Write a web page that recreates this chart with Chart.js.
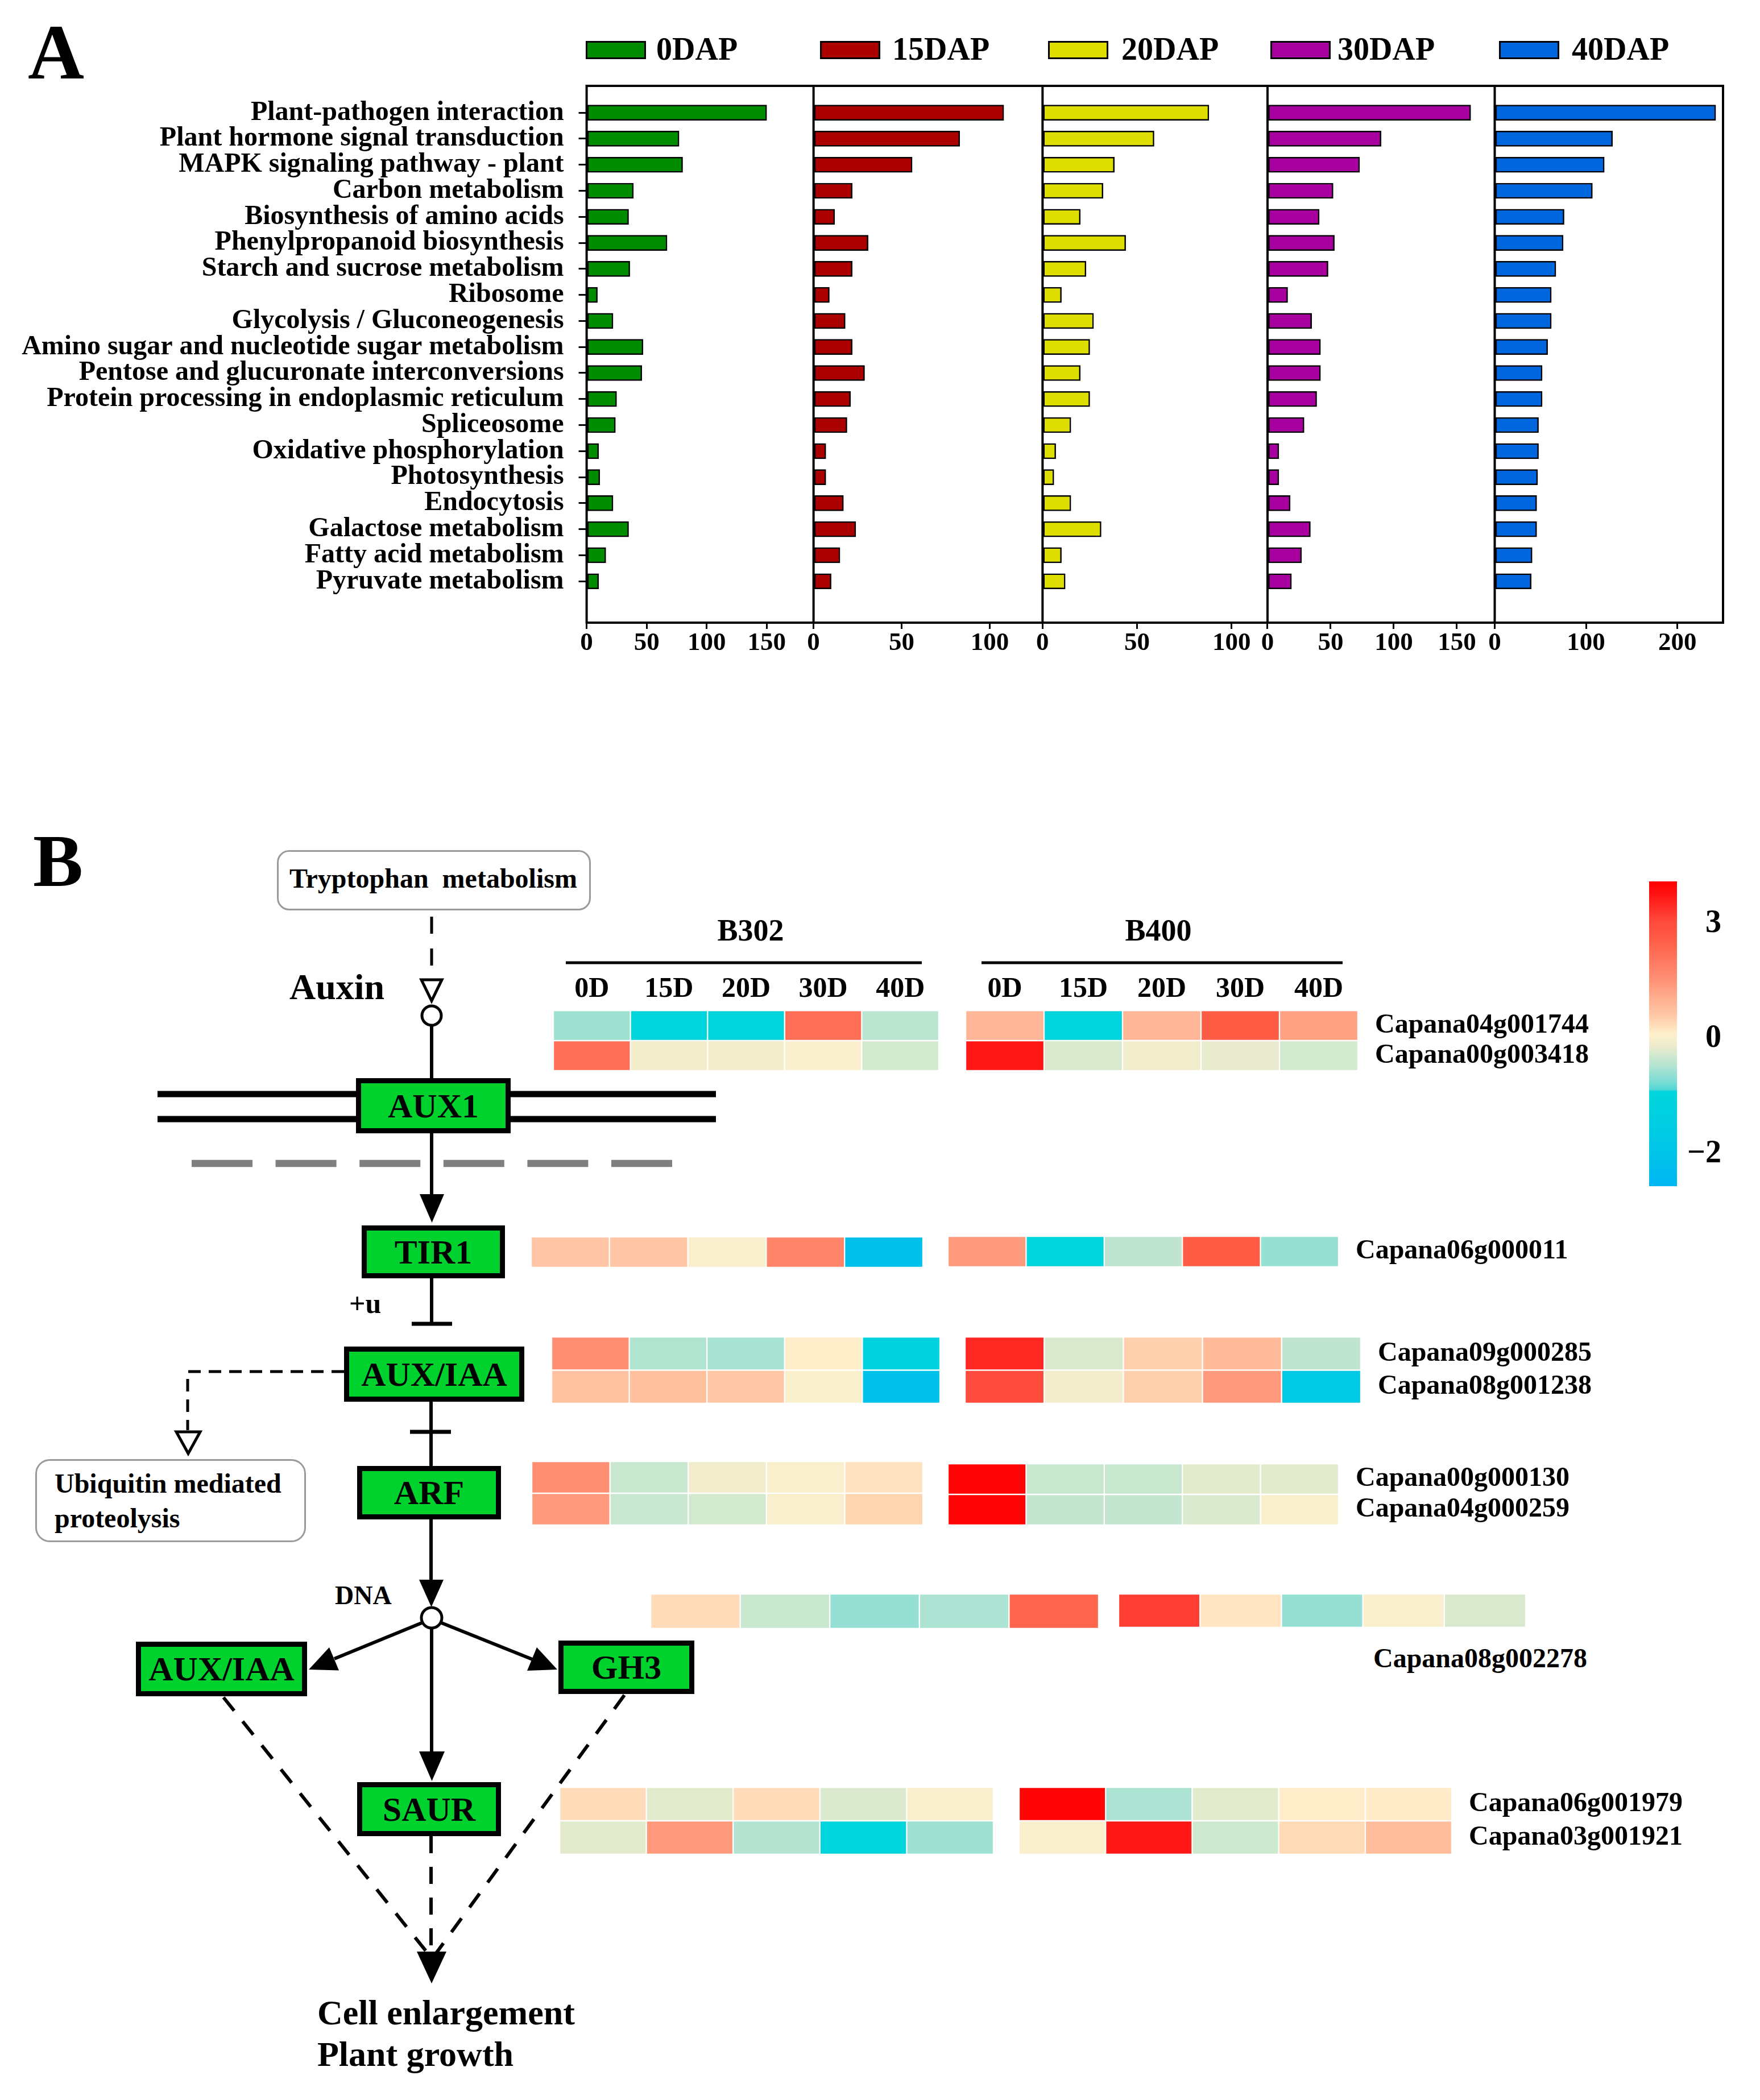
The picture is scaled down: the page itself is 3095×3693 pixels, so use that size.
<!DOCTYPE html>
<html>
<head>
<meta charset="utf-8">
<script src="https://cdn.jsdelivr.net/npm/chart.js@4.4.1/dist/chart.umd.min.js"></script>
<style>
  html, body { margin: 0; padding: 0; background: #fff; }
  #page { position: relative; width: 3095px; height: 3693px; overflow: hidden; background: #fff; }
  #page canvas { position: absolute; }
  #diagram { position: absolute; left: 0; top: 0; }
  #diagram text { font-family: 'Liberation Serif', 'Times New Roman', serif; font-weight: bold; fill: #000; }
</style>
</head>
<body>
<div id="page">
<svg id="diagram" width="3095" height="3693" viewBox="0 0 3095 3693">
  <!-- panel letters -->
  <text x="49" y="138" font-size="137">A</text>
  <text x="58" y="1558" font-size="132">B</text>

  <!-- legend of panel A -->
  <g stroke="#000" stroke-width="3">
    <rect x="1031.5" y="73.5" width="103" height="29" fill="#008c00"/>
    <rect x="1443.5" y="73.5" width="103" height="29" fill="#aa0000"/>
    <rect x="1844.5" y="73.5" width="103" height="29" fill="#dddd00"/>
    <rect x="2235.5" y="73.5" width="103" height="29" fill="#a8009f"/>
    <rect x="2637.5" y="73.5" width="103" height="29" fill="#0066dd"/>
  </g>
  <g font-size="56">
    <text x="1154" y="105">0DAP</text>
    <text x="1569" y="105">15DAP</text>
    <text x="1972" y="105">20DAP</text>
    <text x="2352" y="105">30DAP</text>
    <text x="2764" y="105">40DAP</text>
  </g>

  <!-- heatmap headers -->
  <text x="1320" y="1654" font-size="54" text-anchor="middle">B302</text>
  <text x="2037" y="1654" font-size="54" text-anchor="middle">B400</text>
  <line x1="995" y1="1693" x2="1621" y2="1693" stroke="#000" stroke-width="5"/>
  <line x1="1726" y1="1693" x2="2361" y2="1693" stroke="#000" stroke-width="5"/>
  <text x="2415" y="2932" font-size="48">Capana08g002278</text>

  <!-- pathway -->
  <rect x="488.5" y="1496.5" width="549" height="103" rx="20" fill="#fff" stroke="#9a9a9a" stroke-width="3"/>
  <text x="762" y="1561" font-size="48" text-anchor="middle" style="white-space:pre">Tryptophan  metabolism</text>
  <line x1="759" y1="1612" x2="759" y2="1716" stroke="#000" stroke-width="5" stroke-dasharray="30 26"/>
  <polygon points="741,1723 777,1723 759,1760" fill="#fff" stroke="#000" stroke-width="5"/>
  <circle cx="759" cy="1786" r="17" fill="#fff" stroke="#000" stroke-width="5"/>
  <text x="509" y="1757" font-size="64">Auxin</text>
  <line x1="759" y1="1803" x2="759" y2="1898" stroke="#000" stroke-width="6"/>

  <line x1="277" y1="1924" x2="1259" y2="1924" stroke="#000" stroke-width="11"/>
  <line x1="277" y1="1968" x2="1259" y2="1968" stroke="#000" stroke-width="11"/>
  <line x1="337" y1="2046" x2="1182" y2="2046" stroke="#7f7f7f" stroke-width="12.6" stroke-dasharray="107 40.6"/>

  <line x1="759" y1="1993" x2="759" y2="2102" stroke="#000" stroke-width="6"/>
  <polygon points="738,2100 781,2100 759.5,2150" fill="#000"/>
  <line x1="759" y1="2248" x2="759" y2="2328" stroke="#000" stroke-width="6"/>
  <line x1="724" y1="2328" x2="795" y2="2328" stroke="#000" stroke-width="7"/>
  <text x="614" y="2309" font-size="50">+u</text>

  <polyline points="605,2412 330,2412 330,2515" fill="none" stroke="#000" stroke-width="5" stroke-dasharray="22 14"/>
  <polygon points="310,2518 352,2518 331,2556" fill="#fff" stroke="#000" stroke-width="5"/>
  <rect x="63.5" y="2567.5" width="473" height="143" rx="24" fill="#fff" stroke="#9a9a9a" stroke-width="3"/>
  <text x="96" y="2625" font-size="48">Ubiquitin mediated</text>
  <text x="96" y="2686" font-size="48">proteolysis</text>

  <line x1="758" y1="2465" x2="758" y2="2580" stroke="#000" stroke-width="6"/>
  <line x1="721" y1="2518" x2="793" y2="2518" stroke="#000" stroke-width="7"/>

  <line x1="758" y1="2672" x2="758" y2="2780" stroke="#000" stroke-width="6"/>
  <polygon points="737,2778 780,2778 758.5,2826" fill="#000"/>
  <circle cx="759" cy="2845" r="18" fill="#fff" stroke="#000" stroke-width="5"/>
  <text x="589" y="2821" font-size="46">DNA</text>

  <line x1="744" y1="2853" x2="588" y2="2917" stroke="#000" stroke-width="6"/>
  <polygon points="543,2936 596,2937.5 579,2897" fill="#000"/>
  <line x1="774" y1="2853" x2="936" y2="2918" stroke="#000" stroke-width="6"/>
  <polygon points="980,2936 927,2938 944,2897" fill="#000"/>
  <line x1="759" y1="2863" x2="759" y2="3082" stroke="#000" stroke-width="6"/>
  <polygon points="737,3080 782,3080 759.5,3132" fill="#000"/>

  <g stroke="#000" stroke-width="6" stroke-dasharray="30 24" fill="none">
    <line x1="393" y1="2985" x2="753" y2="3436"/>
    <line x1="1098" y1="2981" x2="766" y2="3436"/>
    <line x1="758" y1="3229" x2="758" y2="3436"/>
  </g>
  <polygon points="733,3432 785,3432 759,3488" fill="#000"/>
  <text x="558" y="3560" font-size="62">Cell enlargement</text>
  <text x="558" y="3633" font-size="62">Plant growth</text>

  <!-- gene boxes -->
  <g fill="#00d22d" stroke="#000" stroke-width="9">
    <rect x="630.5" y="1900.5" width="263" height="88"/>
    <rect x="640.5" y="2159.5" width="243" height="84"/>
    <rect x="609.5" y="2372.5" width="308" height="88"/>
    <rect x="632.5" y="2582.5" width="244" height="85"/>
    <rect x="243.5" y="2891.5" width="292" height="87"/>
    <rect x="986.5" y="2889.5" width="230" height="85"/>
    <rect x="632.5" y="3138.5" width="244" height="86"/>
  </g>
  <g font-size="60" text-anchor="middle">
    <text x="762" y="1965">AUX1</text>
    <text x="762" y="2222">TIR1</text>
    <text x="763.5" y="2437">AUX/IAA</text>
    <text x="754.5" y="2645">ARF</text>
    <text x="389.5" y="2955">AUX/IAA</text>
    <text x="1101.5" y="2952">GH3</text>
    <text x="754.5" y="3202">SAUR</text>
  </g>
</svg>
</div>
<script>
// ---- panel A: KEGG pathway counts ----
const CATEGORIES = [
  'Plant-pathogen interaction', 'Plant hormone signal transduction', 'MAPK signaling pathway - plant',
  'Carbon metabolism', 'Biosynthesis of amino acids', 'Phenylpropanoid biosynthesis',
  'Starch and sucrose metabolism', 'Ribosome', 'Glycolysis / Gluconeogenesis',
  'Amino sugar and nucleotide sugar metabolism', 'Pentose and glucuronate interconversions',
  'Protein processing in endoplasmic reticulum', 'Spliceosome', 'Oxidative phosphorylation',
  'Photosynthesis', 'Endocytosis', 'Galactose metabolism', 'Fatty acid metabolism', 'Pyruvate metabolism'
];
const SERIES = ['0DAP', '15DAP', '20DAP', '30DAP', '40DAP'];
const DAP0 = [150, 77, 80, 39, 35, 67, 36, 9, 22, 47, 46, 25, 24, 10, 11, 22, 35, 16, 10];
const DAP15 = [108, 83, 56, 22, 12, 31, 22, 9, 18, 22, 29, 21, 19, 7, 7, 17, 24, 15, 10];
const DAP20 = [88, 59, 38, 32, 20, 44, 23, 10, 27, 25, 20, 25, 15, 7, 6, 15, 31, 10, 12];
const DAP30 = [161, 90, 73, 52, 41, 53, 48, 16, 35, 42, 42, 39, 29, 9, 9, 18, 34, 27, 19];
const DAP40 = [242, 129, 120, 107, 76, 75, 67, 62, 62, 58, 52, 52, 48, 48, 47, 46, 46, 41, 40];
const AXIS_MAX = [189, 130, 119, 180, 250];
const AXIS_TICKS = [[0, 50, 100, 150], [0, 50, 100], [0, 50, 100], [0, 50, 100, 150], [0, 100, 200]];

// ---- panel B: heatmap z-scores ----
const HEAT_COLS = ['0D', '15D', '20D', '30D', '40D'];
const AUX1_GENES = ['Capana04g001744', 'Capana00g003418'];
const AUX1_B302 = [[-0.58, -1.0, -1.0, 2.2, -0.43], [2.2, -0.05, -0.05, 0.02, -0.28]];
const AUX1_B400 = [[0.9, -1.0, 0.9, 2.6, 1.25], [3.7, -0.25, -0.08, -0.15, -0.28]];
const TIR1_GENES = ['Capana06g000011'];
const TIR1_B302 = [[0.65, 0.65, 0.02, 1.8, -2.1]];
const TIR1_B400 = [[1.4, -0.93, -0.4, 2.6, -0.62]];
const IAA_GENES = ['Capana09g000285', 'Capana08g001238'];
const IAA_B302 = [[1.6, -0.48, -0.53, 0.16, -1.05], [0.72, 0.75, 0.62, 0.02, -2.1]];
const IAA_B400 = [[3.5, -0.25, 0.5, 0.85, -0.4], [3.0, -0.05, 0.5, 1.4, -1.7]];
const ARF_GENES = ['Capana00g000130', 'Capana04g000259'];
const ARF_B302 = [[1.6, -0.34, -0.08, 0.02, 0.28], [1.4, -0.35, -0.28, 0.02, 0.45]];
const ARF_B400 = [[4.0, -0.34, -0.34, -0.18, -0.18], [4.0, -0.37, -0.37, -0.23, 0.02]];
const GH3_GENES = ['Capana08g002278'];
const GH3_B302 = [[0.36, -0.34, -0.62, -0.5, 2.4]];
const GH3_B400 = [[3.2, 0.25, -0.62, 0.02, -0.25]];
const SAUR_GENES = ['Capana06g001979', 'Capana03g001921'];
const SAUR_B302 = [[0.36, -0.18, 0.36, -0.23, 0.02], [-0.18, 1.4, -0.46, -0.95, -0.58]];
const SAUR_B400 = [[4.0, -0.5, -0.18, 0.16, 0.18], [0.02, 3.7, -0.32, 0.38, 0.8]];
const CBAR_MIN = -2.55;
const CBAR_MAX = 4.1;
const CBAR_TICKS = [-2, 0, 3];

const page = document.getElementById('page');
const BAR_COLORS = ['#008c00', '#aa0000', '#dddd00', '#a8009f', '#0066dd'];
const SEG_WEIGHTS = [399, 402.7, 395.6, 399.5, 401.5];
const CBAR_CENTER = 0.485;  // where 0 sits along the colour bar
const serif = (size) => ({ family: "'Liberation Serif', 'Times New Roman', serif", weight: 'bold', size });

// colour map, position t in 0..1 along the colour bar
const CMAP = [
  [0, '#00b6f4'], [0.1, '#00c3ea'], [0.2, '#00cde2'], [0.31, '#00d5dc'], [0.317, '#50d6d6'],
  [0.341, '#78dcd4'], [0.384, '#a8e2d2'], [0.427, '#cfe8cf'], [0.463, '#eeeccc'], [0.5, '#fff0cc'],
  [0.556, '#ffcaa8'], [0.614, '#ffb090'], [0.67, '#ff9478'], [0.735, '#ff7a62'], [0.799, '#ff6048'],
  [0.868, '#ff4a3c'], [0.963, '#ff1010'], [1, '#ff0000']
];
function norm(v) {
  return v >= 0 ? CBAR_CENTER + (1 - CBAR_CENTER) * v / CBAR_MAX
                : CBAR_CENTER - CBAR_CENTER * v / CBAR_MIN;
}
function hex(c) {
  return [1, 3, 5].map(i => parseInt(c.slice(i, i + 2), 16));
}
function heatColor(v) {
  const t = Math.max(0, Math.min(1, norm(v)));
  for (let i = 1; i < CMAP.length; i++) {
    if (t <= CMAP[i][0]) {
      const [t0, c0] = CMAP[i - 1];
      const [t1, c1] = CMAP[i];
      const f = (t - t0) / (t1 - t0);
      const a = hex(c0), b = hex(c1);
      return 'rgb(' + a.map((x, k) => Math.round(x + (b[k] - x) * f)).join(',') + ')';
    }
  }
  return CMAP[CMAP.length - 1][1];
}

function addCanvas(left, top, width, height) {
  const cv = document.createElement('canvas');
  cv.width = width;
  cv.height = height;
  cv.style.left = left + 'px';
  cv.style.top = top + 'px';
  page.appendChild(cv);
  return cv;
}
// keep label overflow from moving the plot area
function noPad(s) {
  s.paddingTop = 0; s.paddingBottom = 0; s.paddingLeft = 0; s.paddingRight = 0;
}

// ---------- panel A ----------
const SERIES_DATA = [DAP0, DAP15, DAP20, DAP30, DAP40];

const framePlugin = {
  id: 'frame',
  afterDraw(chart) {
    const { ctx, chartArea: a } = chart;
    ctx.save();
    ctx.strokeStyle = '#000';
    ctx.lineWidth = 4;
    ctx.strokeRect(a.left, a.top, a.right - a.left, a.bottom - a.top);
    for (let i = 1; i < SERIES.length; i++) {
      const x = chart.scales['x' + i].left;
      ctx.beginPath();
      ctx.moveTo(x, a.top);
      ctx.lineTo(x, a.bottom);
      ctx.stroke();
    }
    ctx.restore();
  }
};

const scalesA = {
  y: {
    type: 'linear',
    reverse: true,
    offset: false,
    min: -1.03,
    max: 19.59,
    position: 'left',
    grid: { offset: false, drawOnChartArea: false, tickLength: 14, lineWidth: 3, color: '#000' },
    border: { display: false },
    afterBuildTicks: s => { s.ticks = CATEGORIES.map((_, i) => ({ value: i })); },
    ticks: { autoSkip: false, padding: 26, color: '#000', font: serif(48),
             callback: (v, i) => CATEGORIES[i] },
    afterFit: s => { s.width = 1031.6; noPad(s); }
  }
};
SERIES.forEach((name, i) => {
  scalesA['x' + i] = {
    type: 'linear',
    position: 'bottom',
    stack: 'dap',
    stackWeight: SEG_WEIGHTS[i],
    min: 0,
    max: AXIS_MAX[i],
    afterBuildTicks: s => { s.ticks = AXIS_TICKS[i].map(v => ({ value: v })); },
    grid: { drawOnChartArea: false, tickLength: 11, lineWidth: 3, color: '#000' },
    border: { display: false },
    ticks: { autoSkip: false, maxRotation: 0, padding: -2, color: '#000', font: serif(45) },
    afterFit: s => { s.height = 100; noPad(s); }
  };
});

new Chart(addCanvas(0, 0, 3095, 1260), {
  type: 'bar',
  data: {
    datasets: SERIES.map((name, i) => ({
      label: name,
      data: SERIES_DATA[i].map((v, k) => ({ x: v, y: k })),
      xAxisID: 'x' + i,
      yAxisID: 'y',
      backgroundColor: BAR_COLORS[i],
      borderColor: '#000',
      borderWidth: 2.5,
      borderSkipped: false,
      barThickness: 27,
      grouped: false
    }))
  },
  options: {
    indexAxis: 'y',
    responsive: false,
    animation: false,
    events: [],
    layout: { padding: { top: 151, right: 65, bottom: 65, left: 0 } },
    plugins: { legend: { display: false }, tooltip: { enabled: false } },
    scales: scalesA
  },
  plugins: [framePlugin]
});

// ---------- panel B heatmaps ----------
function heatBlock(rect, genes, values, withHeader, withLabels) {
  const [x0, y0, x1, y1] = rect;
  const topH = withHeader ? 80 : 0;
  const rightW = withLabels ? 420 : 0;
  const cells = [];
  values.forEach((row, r) => row.forEach((v, c) => cells.push({ x: [c, c + 1], y: genes[r], v })));
  new Chart(addCanvas(x0, y0 - topH, x1 - x0 + rightW, y1 - y0 + topH), {
    type: 'bar',
    data: {
      labels: genes,
      datasets: [{
        data: cells,
        backgroundColor: ctx => heatColor(ctx.raw.v),
        borderColor: '#fff',
        borderWidth: 1.5,
        borderSkipped: false,
        barPercentage: 1,
        categoryPercentage: 1
      }]
    },
    options: {
      indexAxis: 'y',
      responsive: false,
      animation: false,
      events: [],
      layout: { padding: 0 },
      plugins: { legend: { display: false }, tooltip: { enabled: false } },
      scales: {
        x: {
          type: 'linear', min: 0, max: HEAT_COLS.length,
          display: withHeader, position: 'top',
          grid: { display: false, drawTicks: false },
          border: { display: false },
          afterBuildTicks: s => { s.ticks = HEAT_COLS.map((_, i) => ({ value: i + 0.5 })); },
          ticks: { autoSkip: false, maxRotation: 0, padding: 7, color: '#000', font: serif(50),
                   callback: (v, i) => HEAT_COLS[i] },
          afterFit: s => { s.height = topH; noPad(s); }
        },
        y: {
          type: 'category', offset: true,
          display: withLabels, position: 'right',
          grid: { display: false, drawTicks: false },
          border: { display: false },
          ticks: { autoSkip: false, padding: 30, color: '#000', font: serif(48) },
          afterFit: s => { s.width = rightW; noPad(s); }
        }
      }
    }
  });
}

const HEAT_BLOCKS = [
  { genes: AUX1_GENES, b302: AUX1_B302, b400: AUX1_B400, r302: [973, 1777, 1651, 1883], r400: [1698, 1777, 2388, 1883], header: true, labels: true },
  { genes: TIR1_GENES, b302: TIR1_B302, b400: TIR1_B400, r302: [934, 2175, 1623, 2229], r400: [1667, 2174, 2354, 2228], header: false, labels: true },
  { genes: IAA_GENES, b302: IAA_B302, b400: IAA_B400, r302: [970, 2351, 1653, 2468], r400: [1697, 2351, 2393, 2468], header: false, labels: true },
  { genes: ARF_GENES, b302: ARF_B302, b400: ARF_B400, r302: [935, 2570, 1623, 2682], r400: [1667, 2574, 2354, 2682], header: false, labels: true },
  { genes: GH3_GENES, b302: GH3_B302, b400: GH3_B400, r302: [1144, 2803, 1932, 2864], r400: [1967, 2803, 2683, 2862], header: false, labels: false },
  { genes: SAUR_GENES, b302: SAUR_B302, b400: SAUR_B400, r302: [984, 3143, 1747, 3261], r400: [1792, 3143, 2553, 3261], header: false, labels: true }
];
HEAT_BLOCKS.forEach(b => {
  heatBlock(b.r302, b.genes, b.b302, b.header, false);
  heatBlock(b.r400, b.genes, b.b400, b.header, b.labels);
});

// ---------- colour bar ----------
new Chart(addCanvas(2900, 1550, 127, 536), {
  type: 'bar',
  data: {
    labels: ['z'],
    datasets: [{
      data: [[0, 1]],
      barPercentage: 1,
      categoryPercentage: 1,
      backgroundColor: ctx => {
        const area = ctx.chart.chartArea;
        if (!area) return '#fff';
        const g = ctx.chart.ctx.createLinearGradient(0, area.bottom, 0, area.top);
        CMAP.forEach(([t, c]) => g.addColorStop(t, c));
        return g;
      }
    }]
  },
  options: {
    responsive: false,
    animation: false,
    events: [],
    layout: { padding: 0 },
    plugins: { legend: { display: false }, tooltip: { enabled: false } },
    scales: {
      x: { display: false, offset: true },
      y: {
        type: 'linear', min: 0, max: 1, position: 'right',
        grid: { display: false, drawTicks: false },
        border: { display: false },
        afterBuildTicks: s => { s.ticks = CBAR_TICKS.map(v => ({ value: norm(v) })); },
        ticks: {
          autoSkip: false, padding: 0, crossAlign: 'far', color: '#000', font: serif(56),
          callback: (v, i) => String(CBAR_TICKS[i]).replace('-', '\u2212')
        },
        afterFit: s => { s.width = 78; noPad(s); }
      }
    }
  }
});
</script>
</body>
</html>
